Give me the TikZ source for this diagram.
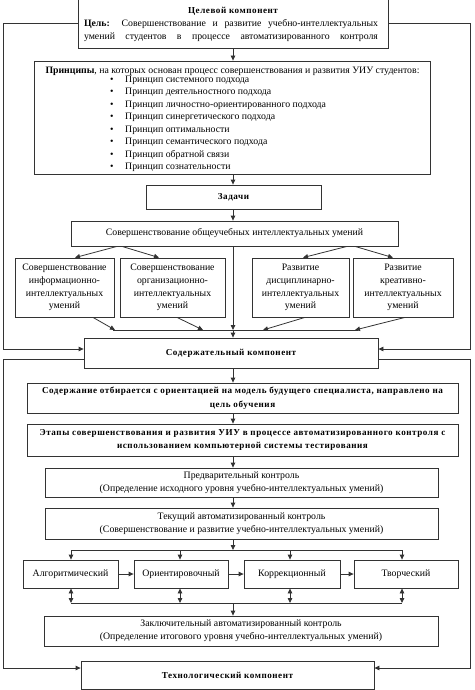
\documentclass[tikz,border=0pt]{standalone}
\usepackage{fontspec}
\setmainfont{Liberation Serif}
\newfontfamily\spacedfont{Liberation Serif}[LetterSpace=6]
\usetikzlibrary{arrows.meta}
\begin{document}
\begin{tikzpicture}[x=1pt,y=-1pt,
  every node/.style={inner sep=0pt},
  ln/.style={draw=black!80, line width=0.8pt},
  box/.style={ln, align=center, font=\fontsize{9.8}{12.8}\selectfont},
  hd/.style={font=\spacedfont\bfseries\fontsize{9.1}{13.5}\selectfont},
  txt/.style={font=\fontsize{9.8}{12.5}\selectfont},
  arr/.style={ln, -{Triangle[length=5pt,width=4.5pt]}},
  darr/.style={ln, {Triangle[length=5pt,width=4.5pt]}-{Triangle[length=5pt,width=4.5pt]}}
]
\useasboundingbox (0,0) rectangle (474,690);

% ---------- upper part ----------
\node[box, minimum width=310pt, minimum height=50pt] (T) at (233,23) {};
\node[hd] (Tt) at (233,11) {Целевой компонент};
\node[txt] (Tl1) at (231,24.5) {\makebox[294pt][s]{\textbf{Цель:} Совершенствование и развитие учебно-интеллектуальных}};
\node[txt] (Tl2) at (231,37.5) {\makebox[294pt][s]{умений студентов в процессе автоматизированного контроля}};

\node[box, minimum width=396pt, minimum height=113pt] (P) at (232,117.5) {};
\node[txt] (Ph) at (232.5,71) {\textbf{Принципы}, на которых основан процесс совершенствования и развития УИУ студентов:};
\node[txt, align=left, anchor=north west] (Pl) at (110,75.5) {%
\makebox[15pt][l]{•}Принцип системного подхода\\
\makebox[15pt][l]{•}Принцип деятельностного подхода\\
\makebox[15pt][l]{•}Принцип личностно-ориентированного подхода\\
\makebox[15pt][l]{•}Принцип синергетического подхода\\
\makebox[15pt][l]{•}Принцип оптимальности\\
\makebox[15pt][l]{•}Принцип семантического подхода\\
\makebox[15pt][l]{•}Принцип обратной связи\\
\makebox[15pt][l]{•}Принцип сознательности};

\node[box, hd, minimum width=175pt, minimum height=24pt] (Z) at (233.5,197) {Задачи};
\node[box, minimum width=327pt, minimum height=25pt] (O) at (234.5,233.5) {Совершенствование общеучебных интеллектуальных умений};

\node[box, minimum width=99pt, minimum height=59pt] (B1) at (64.5,287.5) {Совершенствование\\информационно-\\интеллектуальных\\умений};
\node[box, minimum width=105pt, minimum height=59pt] (B2) at (172.5,287.5) {Совершенствование\\организационно-\\интеллектуальных\\умений};
\node[box, minimum width=97pt, minimum height=59pt] (B3) at (300.5,287.5) {Развитие\\дисциплинарно-\\интеллектуальных\\умений};
\node[box, minimum width=100pt, minimum height=59pt] (B4) at (403,287.5) {Развитие\\креативно-\\интеллектуальных\\умений};

\node[box, hd, minimum width=294pt, minimum height=30pt] (S) at (231,353) {Содержательный компонент};

% ---------- lower part ----------
\node[box, hd, minimum width=431pt, minimum height=30pt] (C1) at (242.5,398) {Содержание отбирается с ориентацией на модель будущего специалиста, направлено на\\цель обучения};
\node[box, hd, minimum width=431pt, minimum height=32pt] (C2) at (242.5,440) {Этапы совершенствования и развития УИУ в процессе автоматизированного контроля с\\использованием компьютерной системы тестирования};
\node[box, minimum width=393pt, minimum height=29pt] (C3) at (241.5,482.5) {Предварительный контроль\\(Определение исходного уровня учебно-интеллектуальных умений)};
\node[box, minimum width=393pt, minimum height=31pt] (C4) at (241.5,523.5) {Текущий автоматизированный контроль\\(Совершенствование и развитие учебно-интеллектуальных умений)};

\node[box, minimum width=95pt, minimum height=28pt] (D1) at (70.5,574) {Алгоритмический};
\node[box, minimum width=94pt, minimum height=28pt] (D2) at (181,574) {Ориентировочный};
\node[box, minimum width=96pt, minimum height=28pt] (D3) at (292,574) {Коррекционный};
\node[box, minimum width=104pt, minimum height=28pt] (D4) at (406,574) {Творческий};

\node[box, minimum width=394pt, minimum height=30pt] (F) at (241,631) {Заключительный автоматизированный контроль\\(Определение итогового уровня учебно-интеллектуальных умений)};
\node[box, hd, minimum width=293pt, minimum height=28pt] (Tech) at (227.5,675) {Технологический компонент};

% ---------- helper coordinates ----------
\coordinate (ax) at (233,0);
\coordinate (hl) at (0,330);
\coordinate (hlL) at (113,330);
\coordinate (hlR) at (358,330);
\coordinate (Lt) at (3,23);
\coordinate (Lb) at (3,349);
\coordinate (Rt) at (470,23);
\coordinate (Rb) at (470,349);
\coordinate (Ls) at (3,359);
\coordinate (Le) at (3,668);
\coordinate (Rs) at (470,359);
\coordinate (Re) at (470,668);
\coordinate (tl) at (0,550);
\coordinate (bl) at (0,603);
\coordinate (dx1) at (71,0);
\coordinate (dx2) at (180,0);
\coordinate (dx3) at (290,0);
\coordinate (dx4) at (402,0);

% ---------- connectors ----------
\draw[arr] (T.south -| ax) -- (P.north -| ax);
\draw[arr] (P.south -| ax) -- (Z.north -| ax);
\draw[arr] (Z.south -| ax) -- (O.north -| ax);

\draw[arr] ([xshift=-117.5pt]O.south) -- ([xshift=10.5pt]B1.north);
\draw[arr] ([xshift=-112.5pt]O.south) -- ([xshift=-13.5pt]B2.north);
\draw[arr] ([xshift=112.5pt]O.south) -- ([xshift=2.5pt]B3.north);
\draw[arr] ([xshift=120.5pt]O.south) -- ([xshift=-10pt]B4.north);

\draw[ln] (hlL) -- (hlR);
\draw[arr] (O.south -| ax) -- (hl -| ax);
\draw[arr] (hl -| ax) -- (S.north -| ax);
\draw[arr] ([xshift=28.5pt]B1.south) -- ([xshift=2pt]hlL);
\draw[arr] ([xshift=4.5pt]B2.south) -- (hl -| {(203,0)});
\draw[arr] ([xshift=4.5pt]B3.south) -- (hl -| {(263,0)});
\draw[arr] ([xshift=2pt]B4.south) -- ([xshift=-3pt]hlR);

\draw[arr] (T.west |- Lt) -- (Lt) -- (Lb) -- (S.west |- Lb);
\draw[arr] (T.east |- Rt) -- (Rt) -- (Rb) -- (S.east |- Rb);
\draw[arr] (S.west |- Ls) -- (Ls) -- (Le) -- (Tech.west |- Le);
\draw[arr] (S.east |- Rs) -- (Rs) -- (Re) -- (Tech.east |- Re);

\draw[arr] (S.south -| ax) -- (C1.north -| ax);
\draw[arr] (C1.south -| ax) -- (C2.north -| ax);
\draw[arr] (C2.south -| ax) -- (C3.north -| ax);
\draw[arr] (C3.south -| ax) -- (C4.north -| ax);
\draw[arr] (C4.south -| ax) -- (tl -| ax);
\draw[ln] (tl -| dx1) -- (tl -| dx4);
\draw[arr] (tl -| dx1) -- (D1.north -| dx1);
\draw[arr] (tl -| dx2) -- (D2.north -| dx2);
\draw[arr] (tl -| dx3) -- (D3.north -| dx3);
\draw[arr] (tl -| dx4) -- (D4.north -| dx4);

\draw[arr] (D1.east) -- (D2.west);
\draw[arr] (D2.east) -- (D3.west);
\draw[arr] (D3.east) -- (D4.west);

\draw[darr] (D1.south -| dx1) -- (bl -| dx1);
\draw[darr] (D2.south -| dx2) -- (bl -| dx2);
\draw[darr] (D3.south -| dx3) -- (bl -| dx3);
\draw[darr] (D4.south -| dx4) -- (bl -| dx4);
\draw[ln] (bl -| dx1) -- (bl -| dx4);
\draw[arr] (bl -| ax) -- (F.north -| ax);
\end{tikzpicture}
\end{document}
